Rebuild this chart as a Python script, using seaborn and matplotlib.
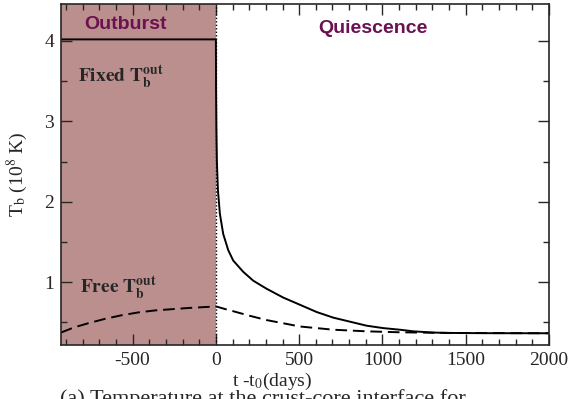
import numpy as np
import pandas as pd
import matplotlib
matplotlib.use("Agg")
import matplotlib.pyplot as plt
from matplotlib.ticker import MultipleLocator
import seaborn as sns

# --- DATA ---
fixed_t = [-930, -500, 0, 1, 3, 6, 12, 24, 44, 74, 104, 164, 224, 304, 404, 505,
           605, 705, 805, 905, 1005, 1105, 1185, 1300, 1400, 1600, 2000]
fixed_tb = [4.02, 4.02, 4.02, 3.4, 2.9, 2.5, 2.15, 1.85, 1.60, 1.40, 1.27, 1.13,
            1.02, 0.92, 0.81, 0.72, 0.63, 0.56, 0.51, 0.46, 0.43, 0.41, 0.39,
            0.375, 0.37, 0.367, 0.366]

free_t = [-930, -850, -767, -666, -566, -466, -366, -266, -166, -80, 0, 50, 104,
          200, 304, 405, 505, 605, 705, 805, 905, 1105, 1400, 2000]
free_tb = [0.375, 0.44, 0.49, 0.545, 0.59, 0.625, 0.65, 0.665, 0.68, 0.69, 0.70,
           0.67, 0.64, 0.585, 0.53, 0.49, 0.45, 0.43, 0.41, 0.40, 0.39, 0.378,
           0.37, 0.366]

phase_labels = ["Outburst", "Quiescence"]

fixed_df = pd.DataFrame({"t": fixed_t, "Tb": fixed_tb})
free_df = pd.DataFrame({"t": free_t, "Tb": free_tb})

sns.set_style("ticks")
plt.rcParams["font.family"] = ["Liberation Serif", "DejaVu Serif"]
plt.rcParams["mathtext.fontset"] = "stix"
plt.rcParams["axes.unicode_minus"] = False

fig = plt.figure(figsize=(5.86, 3.99), dpi=100)
ax = fig.add_axes([61 / 586, 1 - 345 / 399, (549 - 61) / 586, (345 - 4) / 399])

# outburst shading
ax.axvspan(-930, 0, color="#bc8f8f", lw=0, zorder=0)
ax.axvline(0, color="black", ls=(0, (1, 1.5)), lw=1.0, zorder=1)

sns.lineplot(data=fixed_df, x="t", y="Tb", color="black", lw=1.4, ax=ax,
             sort=False, estimator=None)
sns.lineplot(data=free_df, x="t", y="Tb", color="black", lw=1.4, ax=ax,
             sort=False, estimator=None, linestyle=(0, (6, 3)))

ax.set_xlim(-930, 2000)
ax.set_ylim(0.22, 4.46)
ax.xaxis.set_major_locator(MultipleLocator(500))
ax.xaxis.set_minor_locator(MultipleLocator(100))
ax.yaxis.set_major_locator(MultipleLocator(1))
ax.yaxis.set_minor_locator(MultipleLocator(0.5))
ax.tick_params(which="both", direction="in", top=True, right=True,
               labelsize=14, width=1.0)
ax.tick_params(which="major", length=8, pad=5)
ax.tick_params(which="minor", length=4)
for sp in ax.spines.values():
    sp.set_linewidth(1.2)

ax.set_xlabel(r"t -t$_0$(days)", fontsize=14, labelpad=0)
ax.xaxis.set_label_coords((272 - 61) / (549 - 61), -0.075)
ax.set_ylabel(r"T$_{\rm b}$ (10$^8$ K)", fontsize=14, labelpad=10)

purple = "#6b1050"
ax.text(-540, 4.2, phase_labels[0], color=purple, fontsize=14, fontweight="bold",
        family="Liberation Sans", ha="center", va="center")
ax.text(943, 4.16, phase_labels[1], color=purple, fontsize=14, fontweight="bold",
        family="Liberation Sans", ha="center", va="center")
ax.text(-830, 3.55, r"$\mathbf{Fixed\ T_b^{out}}$", fontsize=14,
        ha="left", va="center")
ax.text(-815, 0.92, r"$\mathbf{Free\ T_b^{out}}$", fontsize=14,
        ha="left", va="center")

# caption, cut off at the bottom edge as in the reference
fig.text(263 / 586, 1 - 389 / 399, "(a) Temperature at the crust-core interface for",
         fontsize=16, ha="center", va="top")

fig.savefig("out.png", dpi=100)
